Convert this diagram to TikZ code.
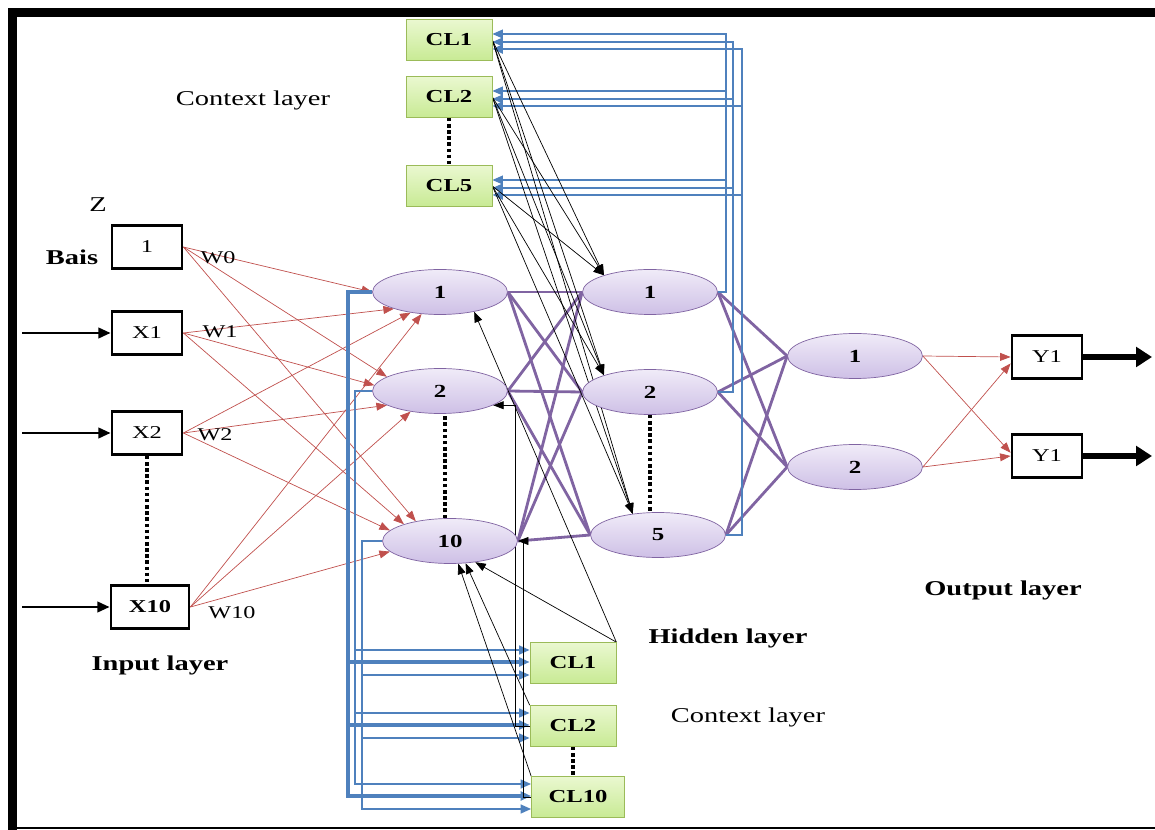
\documentclass[tikz,border=0pt]{standalone}
\usepackage{fontspec}
\setmainfont{Liberation Serif}[FakeStretch=1.35]
\usetikzlibrary{arrows.meta,shapes.geometric,calc,backgrounds}

\definecolor{wred}{RGB}{192,80,77}
\definecolor{wpurple}{RGB}{128,100,162}
\definecolor{cblue}{RGB}{79,129,189}
\definecolor{ctxdraw}{RGB}{155,187,89}
\definecolor{celltop}{RGB}{240,235,248}
\definecolor{cellbot}{RGB}{206,192,230}
\definecolor{ctxtop}{RGB}{234,248,208}
\definecolor{ctxbot}{RGB}{200,234,148}

\tikzset{
 inbox/.style={draw,line width=1.6pt,minimum width=1.4cm,minimum height=0.86cm,inner sep=1pt,font=\fontsize{10.3}{12}\selectfont},
 neuron/.style={ellipse,draw=wpurple,top color=celltop,bottom color=cellbot,minimum width=2.7cm,minimum height=0.9cm,inner sep=0pt,font=\bfseries\fontsize{10.5}{12}\selectfont},
 ctx/.style={draw=ctxdraw,top color=ctxtop,bottom color=ctxbot,minimum width=1.72cm,minimum height=0.82cm,inner sep=1pt,font=\bfseries\fontsize{10.4}{12}\selectfont},
 wgt/.style={draw=wred,thin,-{Triangle[length=6pt,width=4.5pt]}},
 link/.style={draw=wpurple,line width=1.6pt},
 fb/.style={draw=cblue,line width=0.9pt,-{Triangle[length=6pt,width=5pt]}},
 back/.style={draw=black,thin,-{Triangle[length=6pt,width=4.5pt]}},
 dots/.style={line width=2.2pt,dash pattern=on 2pt off 1.5pt},
 lbl/.style={font=\fontsize{12}{14}\selectfont},
 wlbl/.style={font=\fontsize{10.2}{12}\selectfont},
 title/.style={font=\bfseries\fontsize{12}{14}\selectfont},
}

\begin{document}
\begin{tikzpicture}[x=0.02cm,y=-0.02cm]
\useasboundingbox (0,0) rectangle (1155,830);
% frame
\draw[line width=5pt] (1155,12.5) -- (12.5,12.5) -- (12.5,830);
\draw[line width=1pt] (12.5,828) -- (1155,828);

% input layer
\node[inbox] (b) at (147,247) {1};
\node[inbox] (x1) at (147,333) {X1};
\node[inbox] (x2) at (147,433) {X2};
\node[inbox,minimum width=1.56cm] (x10) at (150,607) {\textbf{X10}};
\node[title] (bais) at (72,257) {Bais};
\node[lbl] (z) at (98,205) {Z};
\node[wlbl] (w0) at (218,258) {W0};
\node[wlbl] (w1) at (220,332) {W1};
\node[wlbl] (w2) at (215,435) {W2};
\node[wlbl] (w10) at (232,613) {W10};
\node[title] (inlbl) at (160,665) {Input layer};

% hidden layers
\node[neuron] (h1) at (440,292) {1};
\node[neuron] (h2) at (440,391) {2};
\node[neuron] (h10) at (450,541) {10};
\node[neuron] (g1) at (650,292) {1};
\node[neuron] (g2) at (650,392) {2};
\node[neuron] (g5) at (658,535) {5};
\node[title] (hidlbl) at (728,638) {Hidden layer};

% output layer
\node[neuron] (o1) at (855,356) {1};
\node[neuron] (o2) at (855,467) {2};
\node[inbox] (y1) at (1047,357) {Y1};
\node[inbox] (y2) at (1047,456) {Y1};
\node[title] (outlbl) at (1003,590) {Output layer};

% context layers
\node[ctx] (ca1) at (449,40) {CL1};
\node[ctx] (ca2) at (449,97) {CL2};
\node[ctx] (ca5) at (449,186) {CL5};
\node[lbl] (ctxa) at (253,100) {Context layer};
\node[ctx] (cb1) at (573,663) {CL1};
\node[ctx] (cb2) at (573,726) {CL2};
\node[ctx,minimum width=1.86cm] (cb10) at (578,797) {CL10};
\node[lbl] (ctxb) at (748,717) {Context layer};

\begin{scope}[on background layer]
% inputs
\foreach \n in {x1,x2,x10}
  \draw[line width=1.4pt,-{Triangle[length=7pt,width=6pt]}] (22,0 |- \n.west) coordinate (in\n) -- (\n.west);
% weights to first hidden layer
\foreach \s/\a/\b/\c in {b/180/165/150, x1/200/175/160, x2/215/195/170, x10/230/215/190}{
  \draw[wgt] (\s.east) -- (h1.\a);
  \draw[wgt] (\s.east) -- (h2.\b);
  \draw[wgt] (\s.east) -- (h10.\c);
}
% hidden to hidden, hidden to output
\foreach \a in {h1,h2,h10}
  \foreach \c in {g1,g2,g5}
    \draw[link] (\a.east) -- (\c.west);
\foreach \a in {g1,g2,g5}
  \foreach \c in {o1,o2}
    \draw[link] (\a.east) -- (\c.west);
% output weights
\draw[wgt] (o1.east) -- (y1.west);
\draw[wgt] (o1.east) -- (y2.175);
\draw[wgt] (o2.east) -- (y1.190);
\draw[wgt] (o2.east) -- (y2.west);
\foreach \n in {y1,y2}
  \draw[line width=3.6pt,-{Triangle[length=9pt,width=11pt]}] (\n.east) -- (1152,0 |- \n.east) coordinate (out\n);

% feedback to upper context layer
\foreach \g/\vx/\dy/\lw in {g1/726/-6/0.8pt, g2/733/2/0.8pt, g5/742/9/1.6pt}
  \foreach \c in {ca1,ca2,ca5}{
    \coordinate (t) at ($(\c.east)+(0,\dy)$);
    \draw[fb,line width=\lw] (\g.east) -| (t -| \vx,0) -- (t);
  }
% feedback to lower context layer
\foreach \h/\vx/\dy/\lw in {h2/355/-13/1.1pt, h1/348/-1/2pt, h10/362/12/1.1pt}
  \foreach \c in {cb1,cb2,cb10}{
    \coordinate (t) at ($(\c.west)+(0,\dy)$);
    \draw[fb,line width=\lw] (\h.west) -| (t -| \vx,0) -- (t);
  }

% upper context to second hidden layer
\foreach \c in {ca1,ca2,ca5}{
  \draw[back] (\c.east) -- (g1.160);
  \draw[back] (\c.east) -- (g2.160);
  \draw[back] (\c.east) -- (g5.140);
}
% lower context to first hidden layer
\draw[back] (cb1.north east) -- (h1.330);
\draw[back] (cb1.north east) -- (h10.320);
\draw[back] (cb2.north west) -- (h10.305);
\draw[back] (cb10.north west) -- (h10.290);
\draw[back] (cb2.west) -- ++(-14,0) |- (h2.345);
\draw[back] (cb10.west) -- ++(-8,0) |- (h10.east);

% dotted gaps
\draw[dots] (x2.south) -- (x2.south |- x10.north);
\draw[dots] (h10.north) ++(-5,0) coordinate (hd) -- (hd |- h2.south);
\draw[dots] (g2.south) -- (g2.south |- g5.north);
\draw[dots] (ca2.south) -- (ca5.north);
\draw[dots] (cb2.south) -- (cb2.south |- cb10.north);
\end{scope}
\end{tikzpicture}
\end{document}
